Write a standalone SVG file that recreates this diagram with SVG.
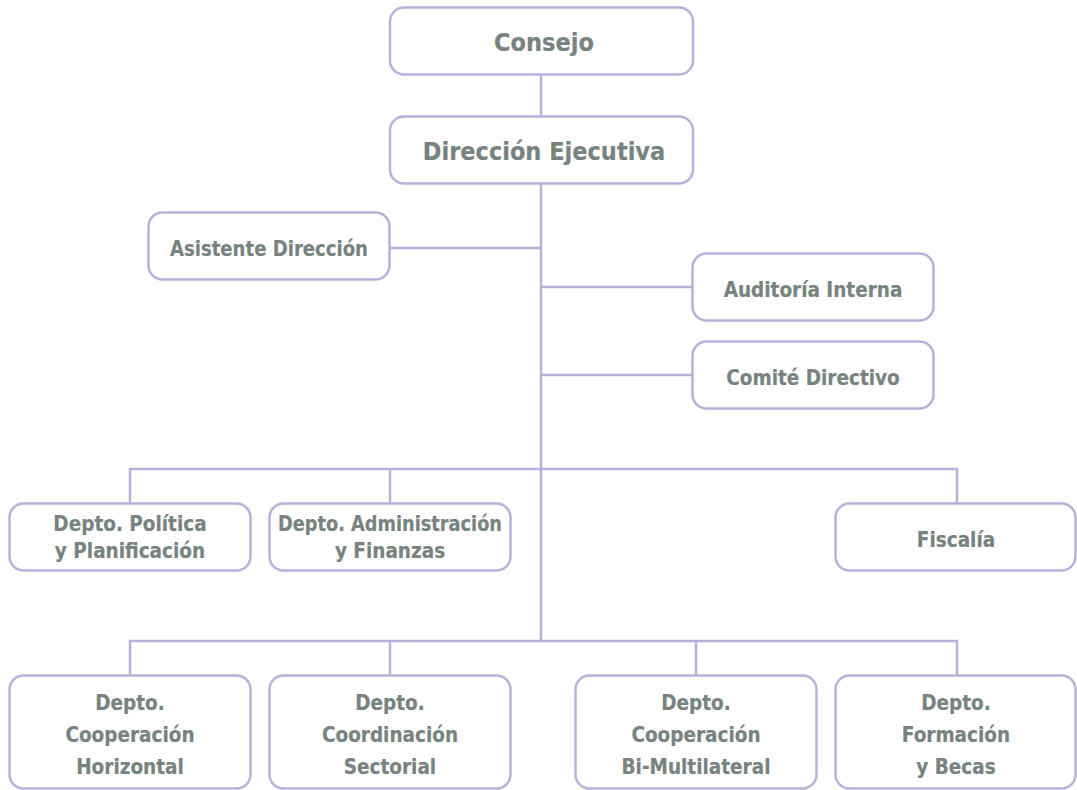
<svg xmlns="http://www.w3.org/2000/svg" width="1077" height="790" viewBox="0 0 1077 790">
<style>
.box{fill:#fff;stroke:#b9b1d9;stroke-width:2.5}
.ln{stroke:#b9b1d9;stroke-width:2.5;fill:none}
text{font-family:"DejaVu Sans Condensed","Liberation Sans Narrow","Roboto",sans-serif;font-stretch:condensed;fill:#77837f;text-anchor:middle;font-weight:bold;stroke:#77837f;stroke-width:0.2}
.big{font-size:25px}
.sm{font-size:20.5px}
</style>
<rect width="1077" height="790" fill="#fff"/>
<g id="connectors">
<path class="ln" d="M541 75V116M541 184V641M390 248H541M541 287H692M541 375H692"/>
<path class="ln" d="M130 503V469H957V503M390 469V503"/>
<path class="ln" d="M130 675V641H957V675M390 641V675M696 641V675"/>
</g>
<g id="consejo"><rect class="box" x="390" y="7.5" width="303" height="67" rx="14"/><text class="big" x="544" y="51">Consejo</text></g>
<g id="direccion"><rect class="box" x="390" y="116.5" width="303" height="67" rx="14"/><text class="big" x="544" y="160">Dirección Ejecutiva</text></g>
<g id="asistente"><rect class="box" x="148.5" y="212.5" width="241" height="67" rx="14"/><text class="sm" x="269" y="256" textLength="198" lengthAdjust="spacingAndGlyphs">Asistente Dirección</text></g>
<g id="auditoria"><rect class="box" x="692.5" y="253.5" width="241" height="67" rx="14"/><text class="sm" x="813" y="297">Auditoría Interna</text></g>
<g id="comite"><rect class="box" x="692.5" y="341.5" width="241" height="67" rx="14"/><text class="sm" x="813" y="385">Comité Directivo</text></g>
<g id="politica"><rect class="box" x="9.5" y="503.5" width="241" height="67" rx="14"/><text class="sm" x="130" y="531">Depto. Política</text><text class="sm" x="130" y="558">y Planificación</text></g>
<g id="administracion"><rect class="box" x="269.5" y="503.5" width="241" height="67" rx="14"/><text class="sm" x="390" y="531" textLength="224" lengthAdjust="spacingAndGlyphs">Depto. Administración</text><text class="sm" x="390" y="558">y Finanzas</text></g>
<g id="fiscalia"><rect class="box" x="835.5" y="503.5" width="240" height="67" rx="14"/><text class="sm" x="956" y="547">Fiscalía</text></g>
<g id="horizontal"><rect class="box" x="9.5" y="675.5" width="241" height="113" rx="14"/><text class="sm" x="130" y="710">Depto.</text><text class="sm" x="130" y="742">Cooperación</text><text class="sm" x="130" y="774">Horizontal</text></g>
<g id="sectorial"><rect class="box" x="269.5" y="675.5" width="241" height="113" rx="14"/><text class="sm" x="390" y="710">Depto.</text><text class="sm" x="390" y="742">Coordinación</text><text class="sm" x="390" y="774">Sectorial</text></g>
<g id="bimulti"><rect class="box" x="575.5" y="675.5" width="241" height="113" rx="14"/><text class="sm" x="696" y="710">Depto.</text><text class="sm" x="696" y="742">Cooperación</text><text class="sm" x="696" y="774">Bi-Multilateral</text></g>
<g id="formacion"><rect class="box" x="835.5" y="675.5" width="240" height="113" rx="14"/><text class="sm" x="956" y="710">Depto.</text><text class="sm" x="956" y="742">Formación</text><text class="sm" x="956" y="774">y Becas</text></g>
</svg>
